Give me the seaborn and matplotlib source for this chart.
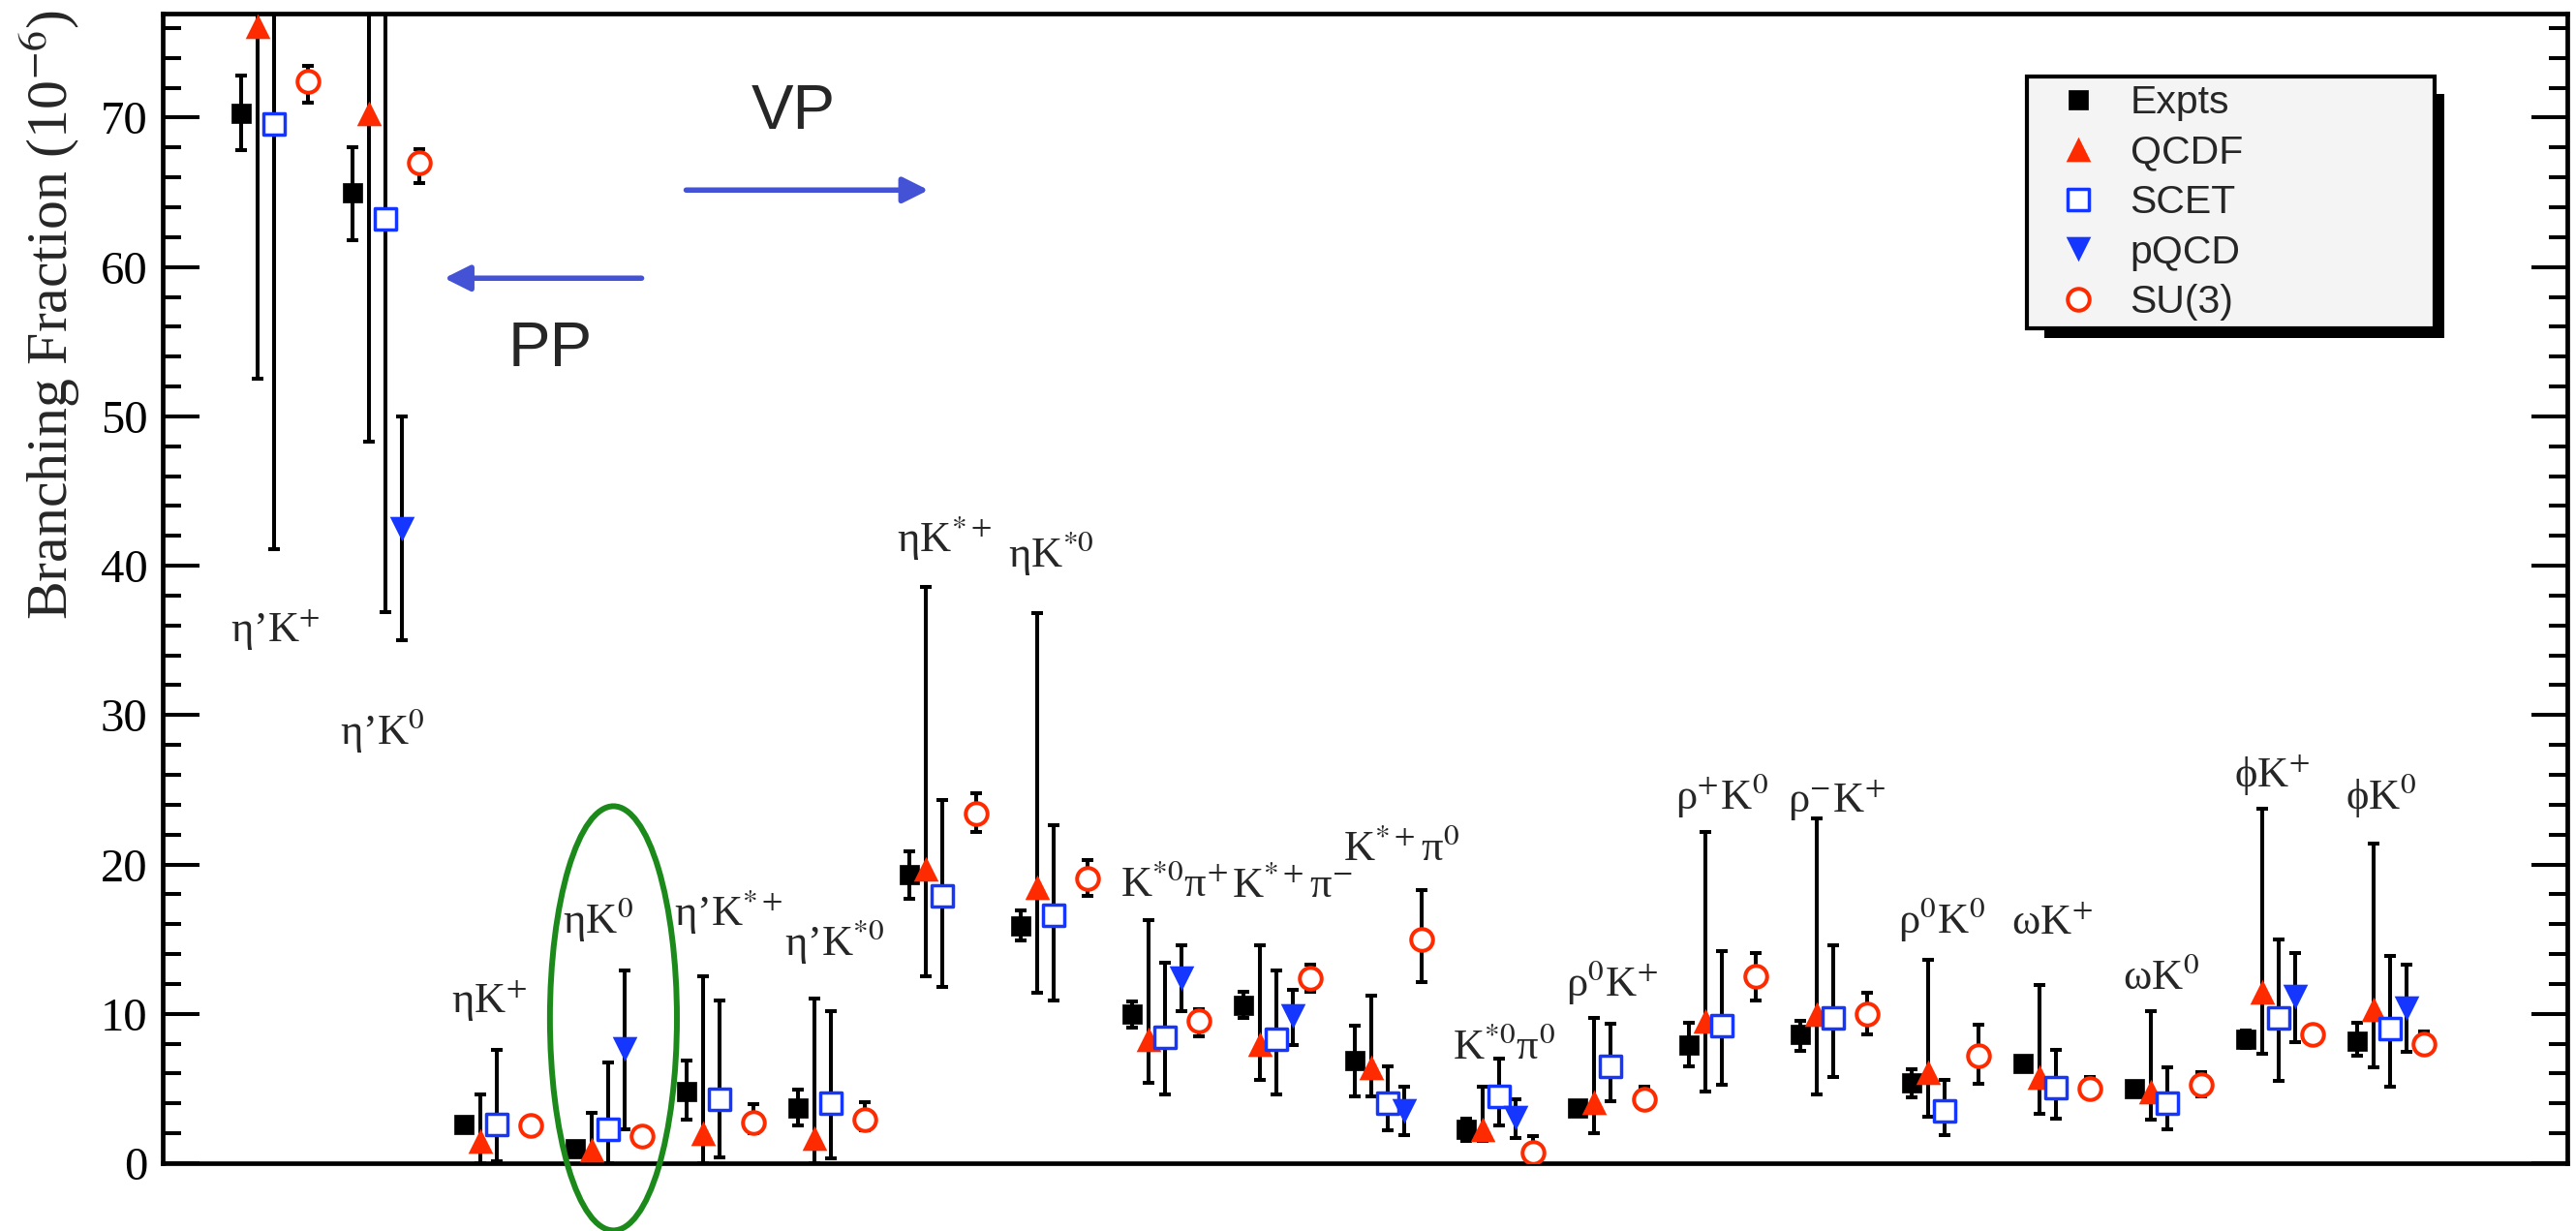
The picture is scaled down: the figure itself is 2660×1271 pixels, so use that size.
import numpy as np
import pandas as pd
import matplotlib
matplotlib.use("Agg")
import matplotlib.pyplot as plt
from matplotlib.patches import Ellipse, Rectangle
import seaborn as sns

# ---------------------------------------------------------------- data
modes = ["η’K$^{+}$", "η’K$^{0}$", "ηK$^{+}$", "ηK$^{0}$", "η’K$^{*+}$", "η’K$^{*0}$",
         "ηK$^{*+}$", "ηK$^{*0}$", "K$^{*0}$π$^{+}$", "K$^{*+}$π$^{-}$", "K$^{*+}$π$^{0}$",
         "K$^{*0}$π$^{0}$", "ρ$^{0}$K$^{+}$", "ρ$^{+}$K$^{0}$", "ρ$^{-}$K$^{+}$", "ρ$^{0}$K$^{0}$",
         "ωK$^{+}$", "ωK$^{0}$", "ϕK$^{+}$", "ϕK$^{0}$"]

# central values and lower / upper ends of the error bars (units of 1e-6)
expts_val = [70.3, 65.0, 2.6, 0.95, 4.8, 3.7, 19.3, 15.9, 10.0, 10.6, 6.9, 2.27, 3.7, 7.9, 8.6, 5.4, 6.7, 5.0, 8.3, 8.2]
expts_lo = [67.8, 61.8, 2.4, 0.75, 2.9, 2.5, 17.7, 14.9, 9.1, 9.7, 4.5, 1.5, 3.5, 6.5, 7.5, 4.4, 6.5, 4.8, 7.7, 7.2]
expts_hi = [72.8, 68.0, 2.8, 1.15, 6.9, 4.9, 20.9, 16.9, 10.8, 11.5, 9.2, 3.0, 3.9, 9.4, 9.5, 6.3, 6.9, 5.2, 8.9, 9.4]

qcdf_val = [76.1, 70.3, 1.5, 0.9, 2.0, 1.7, 19.7, 18.5, 8.3, 8.0, 6.4, 2.3, 4.07, 9.54, 10.0, 6.1, 5.8, 4.8, 11.5, 10.3]
qcdf_lo = [52.5, 48.3, 0.0, 0.0, 0.0, 0.0, 12.5, 11.4, 5.4, 5.6, 4.5, 1.5, 2.0, 4.82, 4.6, 3.1, 3.3, 2.9, 7.3, 6.4]
qcdf_hi = [131.0, 120.0, 4.6, 3.4, 12.5, 11.05, 38.6, 36.8, 16.3, 14.6, 11.2, 5.15, 9.7, 22.2, 23.1, 13.6, 11.9, 10.2, 23.7, 21.4]

scet_val = [69.55, 63.2, 2.6, 2.3, 4.3, 4.0, 17.9, 16.6, 8.4, 8.3, 4.05, 4.5, 6.5, 9.2, 9.7, 3.5, 5.05, 4.05, 9.7, 9.0]
scet_lo = [41.1, 36.9, 0.1, 0.0, 0.39, 0.32, 11.8, 10.9, 4.6, 4.6, 2.2, 2.5, 4.13, 5.26, 5.8, 1.9, 3.0, 2.3, 5.5, 5.1]
scet_hi = [98.0, 90.0, 7.56, 6.73, 10.9, 10.2, 24.3, 22.6, 13.4, 12.9, 6.5, 7.0, 9.36, 14.2, 14.6, 5.6, 7.6, 6.4, 14.95, 13.9]

nan = np.nan
pqcd_val = [nan, 42.5, nan, 7.64, nan, nan, nan, nan, 12.4, 9.85, 3.5, 3.05, nan, nan, nan, nan, nan, nan, 11.15, 10.4]
pqcd_lo = [nan, 35.0, nan, 2.3, nan, nan, nan, nan, 10.2, 7.9, 1.9, 1.7, nan, nan, nan, nan, nan, nan, 8.1, 7.46]
pqcd_hi = [nan, 50.0, nan, 12.93, nan, nan, nan, nan, 14.6, 11.6, 5.1, 4.3, nan, nan, nan, nan, nan, nan, 14.1, 13.3]

su3_val = [72.4, 67.0, 2.55, 1.8, 2.7, 2.9, 23.4, 19.05, 9.5, 12.4, 14.95, 0.7, 4.3, 12.5, 10.0, 7.2, 5.0, 5.25, 8.6, 8.0]
su3_lo = [71.0, 65.6, 2.35, 1.6, 2.0, 2.2, 22.2, 17.9, 8.5, 11.5, 12.1, 0.0, 3.6, 10.9, 8.6, 5.3, 4.5, 4.5, 8.2, 7.5]
su3_hi = [73.45, 67.9, 2.75, 2.0, 3.96, 4.1, 24.8, 20.3, 10.3, 13.3, 18.3, 1.8, 5.15, 14.1, 11.4, 9.3, 5.8, 6.1, 9.2, 8.8]

series_names = ["Expts", "QCDF", "SCET", "pQCD", "SU(3)"]

# ---------------------------------------------------------------- style
sns.set_style("white")
plt.rcParams["font.family"] = ["Liberation Serif", "DejaVu Serif"]
plt.rcParams["mathtext.fontset"] = "stix"
plt.rcParams["ytick.direction"] = "in"
plt.rcParams["xtick.direction"] = "in"
plt.rcParams["ytick.left"] = True
plt.rcParams["ytick.right"] = True

RED = "#FF2B00"
BLUE = "#1436FF"
ARROW = "#4453D6"
GREEN = "#1B8A1B"

series_style = {
    "Expts": dict(marker="s", s=225, color="black", edgecolor="black", linewidth=0.5, vals=(expts_val, expts_lo, expts_hi)),
    "QCDF": dict(marker="^", s=340, color=RED, edgecolor=RED, linewidth=0, vals=(qcdf_val, qcdf_lo, qcdf_hi)),
    "SCET": dict(marker="s", s=262, color="white", edgecolor=BLUE, linewidth=2.5, vals=(scet_val, scet_lo, scet_hi)),
    "pQCD": dict(marker="v", s=340, color=BLUE, edgecolor=BLUE, linewidth=0, vals=(pqcd_val, pqcd_lo, pqcd_hi)),
    "SU(3)": dict(marker="o", s=262, color="white", edgecolor=RED, linewidth=2.9, vals=(su3_val, su3_lo, su3_hi)),
}
offsets = dict(zip(series_names, [-0.3, -0.15, 0.0, 0.15, 0.3]))

group = np.arange(1, len(modes) + 1)

fig = plt.figure(figsize=(26.6, 12.71), dpi=100)
ax = fig.add_axes([168 / 2660, 1 - 1201 / 1271, (2651 - 168) / 2660, (1201 - 13.5) / 1271])

for name in series_names:
    st = series_style[name]
    val, lo, hi = (np.asarray(v, float) for v in st["vals"])
    df = pd.DataFrame({"x": group + offsets[name], "value": val, "lo": lo, "hi": hi}).dropna()
    ax.errorbar(df["x"], df["value"], yerr=[df["value"] - df["lo"], df["hi"] - df["value"]],
                fmt="none", ecolor="black", elinewidth=2.9, capsize=4.5, capthick=2.9, zorder=2)
    sns.scatterplot(data=df, x="x", y="value", marker=st["marker"], s=st["s"], color=st["color"],
                    edgecolor=st["edgecolor"], linewidth=st["linewidth"], ax=ax, zorder=3,
                    label=name, legend=False)

# decay-mode labels: left edge (group units) and baseline height
label_pos = [(0.606, 34.9), (1.589, 28.1), (2.588, 10.06), (3.589, 15.45), (4.595, 15.96),
             (5.586, 13.95), (6.59, 40.99), (7.59, 39.97), (8.60, 17.9), (9.60, 17.8),
             (10.6, 20.3), (11.58, 7.03), (12.6, 11.2), (13.58, 23.7), (14.59, 23.5),
             (15.58, 15.45), (16.6, 15.3), (17.6, 11.7), (18.6, 25.2), (19.6, 23.7)]
for text, (lx, ly) in zip(modes, label_pos):
    ax.text(lx, ly, text, ha="left", va="baseline", fontsize=32, zorder=4)

# PP / VP arrows and captions
arrow_kw = dict(arrowstyle="-|>,head_length=0.4,head_width=0.2", color=ARROW, lw=4,
                mutation_scale=40, shrinkA=0, shrinkB=0)
ax.annotate("", xy=(2.528, 59.25), xytext=(4.30, 59.25), arrowprops=arrow_kw, zorder=4)
ax.annotate("", xy=(6.876, 65.15), xytext=(4.70, 65.15), arrowprops=arrow_kw, zorder=4)
ax.text(5.664, 69.24, "VP", ha="center", va="baseline", fontsize=47, family="Liberation Sans")
ax.text(3.476, 53.37, "PP", ha="center", va="baseline", fontsize=47, family="Liberation Sans")

# highlight around eta K0
ax.add_patch(Ellipse((4.047, 9.7), 1.14, 28.4, fill=False, edgecolor=GREEN, lw=4.3,
                     clip_on=False, zorder=4))

# axes
ax.set_xlim(0, 21.59)
ax.set_ylim(0, 77)
ax.set_xlabel("")
ax.set_ylabel("Branching Fraction (10$^{-6}$)", fontsize=43)
ax.yaxis.set_label_coords(-0.0334, 0.738)
ax.set_yticks(np.arange(0, 71, 10))
ax.set_yticks(np.arange(0, 77, 2), minor=True)
ax.set_xticks([])
ax.tick_params(axis="y", which="major", direction="in", length=27, width=2.9, left=True, right=True,
               labelsize=35, pad=11, color="black", labelcolor="black")
ax.tick_params(axis="y", which="minor", direction="in", length=14, width=2.9, left=True, right=True,
               color="black")
ax.tick_params(axis="x", which="both", bottom=False, top=False, labelbottom=False)
for sp in ax.spines.values():
    sp.set_visible(True)
    sp.set_color("black")
    sp.set_linewidth(3.4)

# legend
handles, labels = ax.get_legend_handles_labels()
ax_w, ax_h = 2651 - 168, 1201 - 13.5
lx0 = (2092.6 - 168) / ax_w
lx1 = (2514 - 168) / ax_w
ly1 = (1201 - 79) / ax_h
ly0 = (1201 - 345) / ax_h
leg = ax.legend(handles, labels, loc="upper left", bbox_to_anchor=(lx0, ly0, lx1 - lx0, ly1 - ly0),
                mode="expand", borderaxespad=0, borderpad=0.2, handlelength=2.23,
                handletextpad=0.18, labelspacing=0.33, scatterpoints=1, scatteryoffsets=[0.5],
                fancybox=False, framealpha=1, facecolor="#F4F4F4", edgecolor="black",
                prop=dict(family="Liberation Sans", size=29.5))
leg.get_frame().set_linewidth(3)

fig.canvas.draw()
bb = leg.get_frame().get_window_extent(fig.canvas.get_renderer())
W, H = fig.bbox.width, fig.bbox.height
shadow = Rectangle(((bb.x0 + 18) / W, (bb.y0 - 10) / H), (bb.width - 8) / W, (bb.height - 8) / H,
                   transform=fig.transFigure, facecolor="black", edgecolor="none",
                   zorder=4.9, clip_on=False)
ax.add_patch(shadow)

fig.savefig("out.png", dpi=100, facecolor="white")
